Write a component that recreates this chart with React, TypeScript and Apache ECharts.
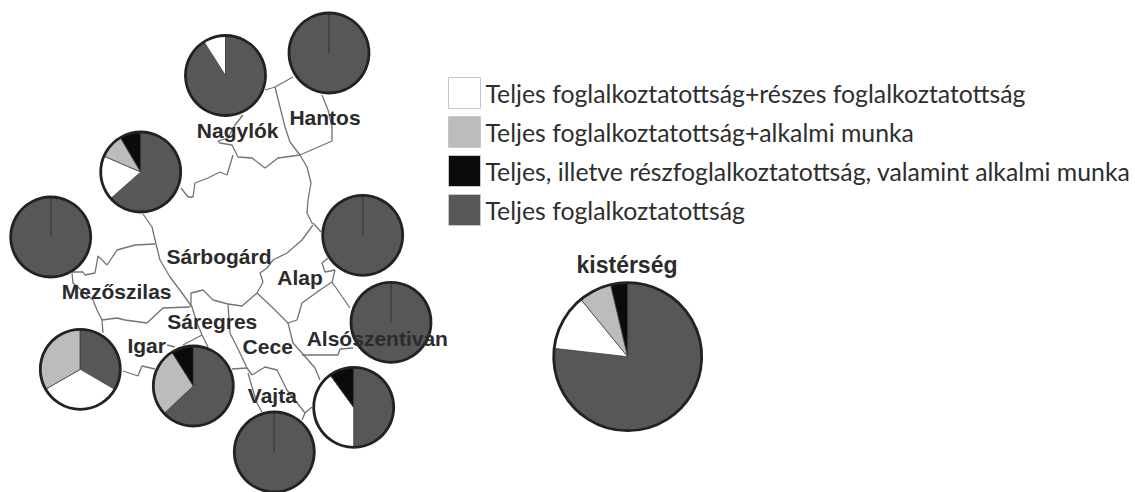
import React, { useEffect, useRef } from "react";
import * as echarts from "echarts";

const categories = [
  "Teljes foglalkoztatottság",
  "Teljes foglalkoztatottság+részes foglalkoztatottság",
  "Teljes foglalkoztatottság+alkalmi munka",
  "Teljes, illetve részfoglalkoztatottság, valamint alkalmi munka",
];
const legendOrder = [categories[1], categories[2], categories[3], categories[0]];
const colors = ["#575757", "#ffffff", "#bcbcbc", "#0b0b0b"];

// values in category order: dark, white, grey, black
const nagylok = [91, 9, 0, 0];
const hantos = [100, 0, 0, 0];
const sarbogard = [63.5, 18, 10, 8.5];
const mezoszilas = [100, 0, 0, 0];
const alap = [100, 0, 0, 0];
const alsoszentivan = [100, 0, 0, 0];
const igar = [33.4, 33.3, 33.3, 0];
const saregres = [63, 0, 28, 9];
const vajta = [100, 0, 0, 0];
const cece = [50, 40, 0, 10];
const kisterseg = [76.8, 12.3, 7.2, 3.7];

const pies: [number[], number, number, number][] = [
  [nagylok, 225.5, 75.5, 40],
  [hantos, 329, 53, 40],
  [sarbogard, 140.7, 172, 40],
  [mezoszilas, 50.7, 237, 40],
  [alap, 362.7, 235.3, 40],
  [alsoszentivan, 391, 322.3, 40],
  [igar, 80.3, 369.3, 40],
  [saregres, 193.3, 386, 40],
  [vajta, 274.3, 452, 40],
  [cece, 353.7, 407.3, 40],
  [kisterseg, 627.7, 356.7, 74],
];

const placeLabels: [number, number, string][] = [
  [237.7, 130, "Nagylók"],
  [325, 117.3, "Hantos"],
  [219, 256.7, "Sárbogárd"],
  [300, 277.3, "Alap"],
  [116.7, 291.7, "Mezőszilas"],
  [212.3, 321.7, "Sáregres"],
  [146.7, 345, "Igar"],
  [267.7, 346.7, "Cece"],
  [377.3, 338.3, "Alsószentivan"],
  [272.3, 395.3, "Vajta"],
];
const summaryLabel: [number, number, string] = [627, 265, "kistérség"];

const borders: number[][][] = [
  [[265, 90], [275, 87], [293, 77]],
  [[275, 87], [280, 107], [285, 127], [290, 142], [300, 155], [307, 167], [311, 183], [308, 200], [307, 213], [312, 223], [314, 224], [321, 232]],
  [[322, 95], [328, 110], [332, 127], [332, 141], [300, 155], [278, 158], [265, 168], [252, 158], [238, 157], [232, 145], [220, 143], [218, 141], [228, 138], [235, 125], [243, 115]],
  [[233, 155], [227, 175], [220, 172], [208, 178], [195, 183], [193, 197], [188, 197], [181, 188]],
  [[143, 214], [152, 227], [157, 248], [160, 260], [170, 277], [182, 293], [192, 307], [197, 323], [202, 335], [208, 347]],
  [[155, 244], [135, 245], [117, 250], [107, 265], [98, 256], [95, 273], [85, 275], [83, 272], [72, 272]],
  [[72, 273], [73, 283], [93, 300], [97, 310], [102, 320], [103, 333]],
  [[102, 320], [117, 318], [125, 320], [147, 323], [163, 308], [190, 307]],
  [[191, 307], [191, 293], [203, 290], [213, 300], [228, 304], [242, 306], [257, 293], [263, 282], [260, 273], [267, 268], [273, 260], [287, 253], [302, 240], [313, 225]],
  [[257, 293], [273, 308], [288, 323], [297, 320], [302, 303], [320, 290], [332, 282], [335, 270], [325, 272], [322, 263], [328, 258]],
  [[332, 282], [350, 308]],
  [[288, 323], [293, 343], [302, 353], [315, 368], [320, 380]],
  [[302, 355], [338, 355], [340, 349], [353, 348]],
  [[228, 305], [230, 333], [240, 353], [247, 368], [252, 375]],
  [[232, 369], [247, 368]],
  [[252, 375], [265, 367], [277, 370], [287, 390], [305, 413], [302, 420]],
  [[312, 407], [305, 413]],
  [[248, 373], [252, 387], [257, 403], [262, 412]],
  [[123, 371], [138, 376], [142, 366], [155, 369]],
  [[183, 345], [202, 335]],
  [[167, 345], [175, 347]],
];

export default function App() {
  const ref = useRef<HTMLDivElement>(null);
  useEffect(() => {
    const chart = echarts.init(ref.current!, null, { renderer: "svg" });
    const series: any[] = [];
    borders.forEach((b) =>
      series.push({
        type: "line",
        data: b,
        z: 1,
        symbol: "none",
        silent: true,
        lineStyle: { color: "#737373", width: 1.3 },
      })
    );
    pies.forEach(([vals, cx, cy, r], i) => {
      series.push({
        type: "pie",
        z: 2,
        center: [cx, cy],
        radius: [0, r],
        startAngle: 90,
        silent: true,
        label: { show: false },
        labelLine: { show: false },
        data: vals.map((v, k) => ({
          value: v,
          name: categories[k],
          itemStyle: { color: colors[k], borderColor: "#444", borderWidth: 0.8 },
        })),
      });
      series.push({
        type: "pie",
        z: 3,
        center: [cx, cy],
        radius: [0, r],
        silent: true,
        label: { show: false },
        labelLine: { show: false },
        data: [
          {
            value: 1,
            name: "outline" + i,
            itemStyle: { color: "rgba(0,0,0,0)", borderColor: "#222222", borderWidth: 2.8 },
          },
        ],
      });
    });
    series.push({
      type: "scatter",
      z: 5,
      symbolSize: 0,
      silent: true,
      itemStyle: { opacity: 1 },
      data: [
        ...placeLabels.map((value) => ({ value })),
        { value: summaryLabel, label: { fontSize: 23 } },
      ],
      label: {
        show: true,
        position: "inside",
        formatter: (p: any) => p.value[2],
        fontFamily: "Liberation Sans",
        fontWeight: "bold",
        fontSize: 21,
        color: "#2b2b2b",
        opacity: 1,
      },
    });
    chart.setOption({
      animation: false,
      backgroundColor: "#ffffff",
      grid: { left: 0, right: 0, top: 0, bottom: 0 },
      xAxis: { type: "value", min: 0, max: 1135, show: false },
      yAxis: { type: "value", min: 0, max: 492, inverse: true, show: false },
      legend: {
        orient: "vertical",
        left: 448,
        top: 77,
        padding: 0,
        icon: "rect",
        itemWidth: 32,
        itemHeight: 31,
        itemGap: 7,
        selectedMode: false,
        data: legendOrder.map((name) => ({
          name,
          icon: "rect",
          itemStyle: {
            color: colors[categories.indexOf(name)],
            borderColor: "#c8c8c8",
            borderWidth: 1,
          },
        })),
        textStyle: { fontFamily: "Lato", fontSize: 24.8, lineHeight: 30, color: "#2e2e2e" },
      },
      series,
    });
    return () => chart.dispose();
  }, []);
  return (
    <div
      ref={ref}
      style={{ position: "fixed", left: 0, top: 0, width: 1135, height: 492 }}
    />
  );
}
